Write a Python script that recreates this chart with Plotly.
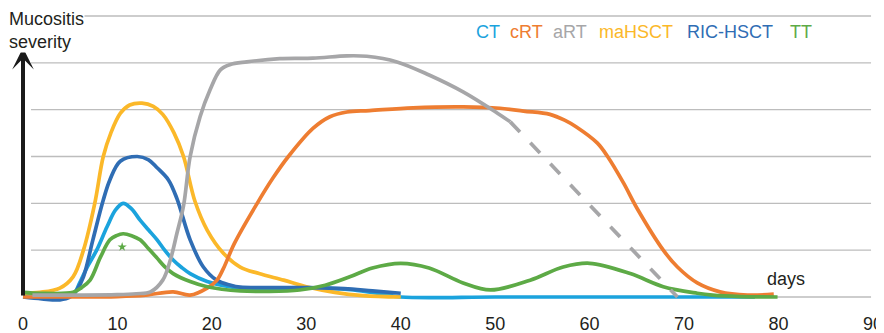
import plotly.graph_objects as go

# ---------------- data ----------------
SERIES_NAMES = ["CT", "cRT", "aRT", "maHSCT", "RIC-HSCT", "TT"]
SERIES_COLORS = ["#1BA3DD", "#EE7D31", "#A6A6A8", "#FBB829", "#2F6DB4", "#5DAA46"]

CT_X = [0, 2, 4, 5.3, 6, 6.8, 7.8, 8.9, 9.8, 10.6, 11.5, 12.4, 13.3, 14.2, 15.0, 15.9, 16.8, 17.7, 19.5, 21, 23, 26, 29, 32, 35, 37.5, 40, 50, 60, 70, 77.5]
CT_Y = [0, 0, 0, 0.05, 0.3, 0.64, 1.0, 1.5, 1.86, 2.0, 1.88, 1.64, 1.43, 1.22, 1.0, 0.79, 0.63, 0.5, 0.33, 0.25, 0.19, 0.17, 0.2, 0.19, 0.15, 0.08, 0, 0, 0, 0, 0]

CRT_X = [0, 5, 10, 13, 15.9, 17.7, 19.5, 20.5, 21.2, 22.4, 24.8, 26.5, 28.1, 30.7, 32.5, 34.3, 36.7, 41.3, 46.6, 50.5, 53, 55.8, 57.4, 58.6, 60.8, 61.9, 63.6, 65, 67.8, 69.3, 71.4, 73.8, 76.7, 79.5]
CRT_Y = [0, 0, 0.01, 0.04, 0.11, 0.04, 0.19, 0.35, 0.6, 1.15, 2.0, 2.55, 3.0, 3.6, 3.85, 3.95, 3.98, 4.04, 4.06, 4.03, 3.97, 3.9, 3.77, 3.63, 3.29, 3.0, 2.43, 1.9, 1.0, 0.64, 0.3, 0.11, 0.04, 0.06]

ART_X = [1, 5, 10, 12, 13.5, 14.8, 15.6, 16.3, 17, 17.7, 18.75, 19.8, 20.9, 21.9, 23.7, 27.2, 30.7, 34.3, 36.4, 39.6, 43, 46.6, 50.2, 51.6]
ART_Y = [0.04, 0.04, 0.05, 0.07, 0.11, 0.36, 0.79, 1.36, 1.95, 3.0, 3.85, 4.42, 4.85, 4.96, 5.02, 5.09, 5.1, 5.15, 5.14, 5.02, 4.74, 4.38, 3.93, 3.74]
ART_PROJ_X = [51.6, 69.3]
ART_PROJ_Y = [3.74, 0]

MAHSCT_X = [0, 1.8, 3.9, 5.3, 6.4, 7.6, 8.5, 9.3, 10.3, 11.3, 12.6, 13.8, 14.8, 16, 17, 18.2, 19.5, 21.2, 23, 25, 27.6, 30, 33, 36, 40]
MAHSCT_Y = [0.08, 0.1, 0.19, 0.43, 1.0, 2.0, 3.0, 3.5, 3.92, 4.1, 4.14, 4.07, 3.9, 3.5, 3.0, 2.05, 1.43, 0.94, 0.64, 0.5, 0.36, 0.22, 0.1, 0.03, 0]

RIC_X = [0, 2, 3.9, 5, 5.7, 6.4, 7.4, 8.5, 9.2, 10.3, 12.1, 13.3, 14.2, 15.4, 16.3, 17.7, 19.1, 20.5, 22, 23, 26, 30, 34, 37, 40]
RIC_Y = [0, -0.04, -0.06, 0, 0.15, 0.43, 1.22, 2.07, 2.5, 2.9, 3.0, 2.93, 2.76, 2.5, 2.1, 1.22, 0.64, 0.36, 0.25, 0.21, 0.2, 0.2, 0.18, 0.13, 0.08]

TT_X = [0, 1.8, 5.3, 6.2, 7.1, 8.2, 9.2, 9.9, 10.6, 11.5, 12.4, 13.3, 14.2, 15.0, 15.9, 17.7, 19.5, 23, 26, 29.3, 32, 34.6, 37, 40, 43, 46.6, 49.5, 53.7, 57.2, 60, 64.3, 67.8, 71.4, 73, 76, 79.9]
TT_Y = [0.1, 0.08, 0.1, 0.2, 0.36, 0.85, 1.22, 1.31, 1.35, 1.31, 1.22, 1.03, 0.83, 0.65, 0.5, 0.33, 0.22, 0.13, 0.12, 0.15, 0.25, 0.43, 0.62, 0.72, 0.62, 0.3, 0.15, 0.36, 0.64, 0.72, 0.5, 0.22, 0.08, 0.04, 0.01, 0]

STAR_X = [10.5]
STAR_Y = [1.07]

X_TICKS = [0, 10, 20, 30, 40, 50, 60, 70, 80, 90]
GRID_LEVELS = [0, 1, 2, 3, 4, 5, 6]

Y_LABEL = "Mucositis<br>severity"
X_LABEL = "days"

# ---------------- figure ----------------
FONT = "Liberation Sans, Arial, Helvetica, sans-serif"
TEXT_COLOR = "#231F20"
col = dict(zip(SERIES_NAMES, SERIES_COLORS))
LW = 3.7

fig = go.Figure()

# grid lines (background)
for lv in GRID_LEVELS:
    x0 = 6.4 if lv == 6 else 0.85
    fig.add_shape(type="line", xref="x", yref="y", x0=x0, x1=89.8, y0=lv, y1=lv,
                  line=dict(color="#BDBDBD", width=1.3), layer="below")

def add_line(x, y, name, dash=None):
    fig.add_trace(go.Scatter(
        x=x, y=y, mode="lines", name=name,
        line=dict(color=col[name], width=LW, shape="spline", smoothing=1.0, dash=dash),
        hoverinfo="skip", showlegend=False))

add_line(CT_X, CT_Y, "CT")
add_line(MAHSCT_X, MAHSCT_Y, "maHSCT")
add_line(RIC_X, RIC_Y, "RIC-HSCT")
add_line(CRT_X, CRT_Y, "cRT")
add_line(TT_X, TT_Y, "TT")
add_line(ART_X, ART_Y, "aRT")
fig.add_trace(go.Scatter(x=ART_PROJ_X, y=ART_PROJ_Y, mode="lines",
                         line=dict(color=col["aRT"], width=LW, dash="14px,15px"),
                         hoverinfo="skip", showlegend=False))
fig.add_trace(go.Scatter(x=STAR_X, y=STAR_Y, mode="markers",
                         marker=dict(symbol="star", size=7, color=col["TT"]),
                         hoverinfo="skip", showlegend=False))

# y-axis arrow
fig.add_annotation(x=0, y=5.32, ax=0, ay=0, xref="x", yref="y", axref="x", ayref="y",
                   showarrow=True, arrowhead=3, arrowsize=0.9, arrowwidth=4,
                   arrowcolor="#1A1A1A", text="")

# axis titles
fig.add_annotation(x=-1.588, y=6.171, xref="x", yref="y", xanchor="left", yanchor="top",
                   text=Y_LABEL, showarrow=False, align="left", borderpad=0,
                   font=dict(family=FONT, size=18, color=TEXT_COLOR), bgcolor="white")
fig.add_annotation(x=80.8, y=0.38, xref="x", yref="y", text=X_LABEL, showarrow=False,
                   font=dict(family=FONT, size=18, color=TEXT_COLOR))

# legend as colored words
LEGEND_POS = [49.2, 53.3, 57.95, 64.95, 74.9, 82.4]
for name, xp in zip(SERIES_NAMES, LEGEND_POS):
    fig.add_annotation(x=xp, y=5.66, xref="x", yref="y", text=name, showarrow=False,
                       font=dict(family=FONT, size=18, color=col[name]))

# page body has an 8px margin, so the figure is sized to the visible area
fig.update_layout(
    width=876, height=325,
    margin=dict(l=0, r=2, t=0, b=22),
    paper_bgcolor="white", plot_bgcolor="white",
    xaxis=dict(range=[-1.588, 90.96], showgrid=False, zeroline=False, showline=False,
               tickmode="array", tickvals=X_TICKS, ticktext=[str(v) for v in X_TICKS],
               ticks="", tickfont=dict(family=FONT, size=18, color=TEXT_COLOR)),
    yaxis=dict(range=[-0.299, 6.171], showgrid=False, zeroline=False, showline=False,
               showticklabels=False, ticks=""),
    showlegend=False,
)

fig.write_html("out.html")
